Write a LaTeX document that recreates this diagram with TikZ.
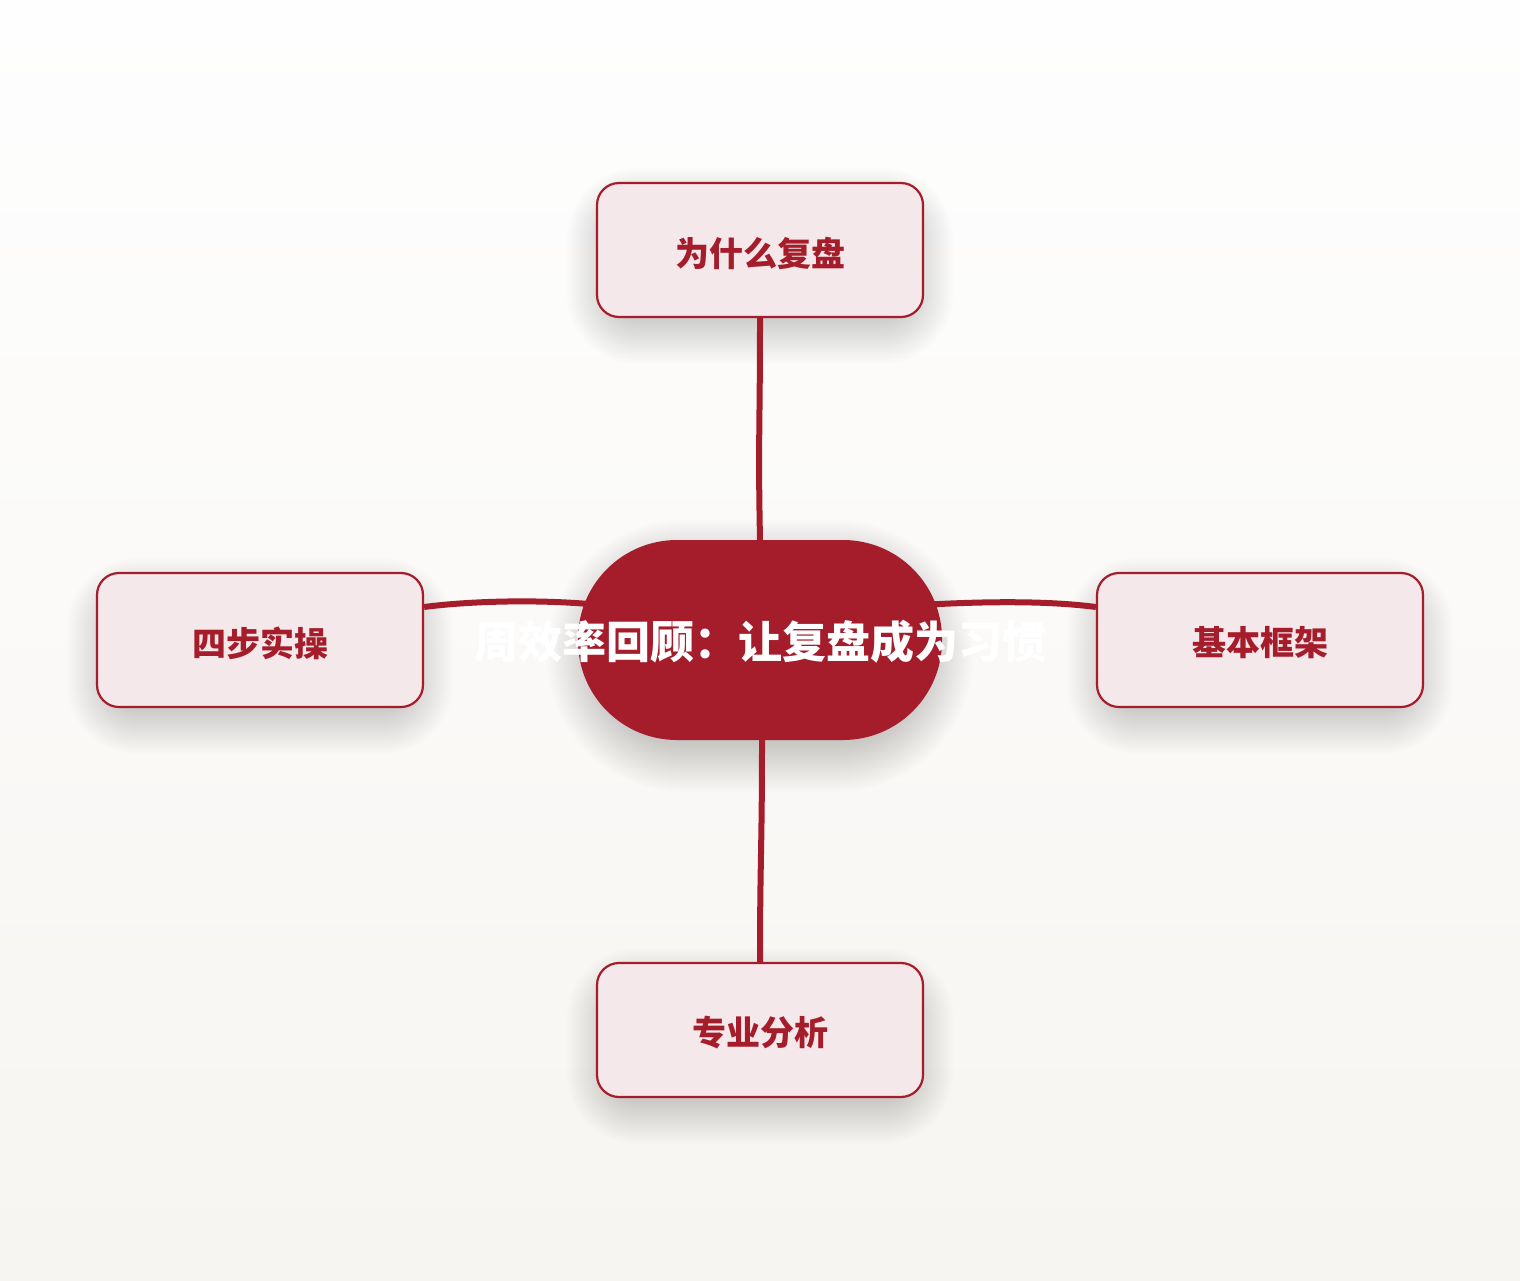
\documentclass[tikz,border=0pt]{standalone}
\usepackage{fontspec}
\newfontfamily\cjk{Noto Sans CJK SC}
\definecolor{mainred}{HTML}{A51C2B}
\definecolor{boxfill}{HTML}{F4E8EA}
\definecolor{bgtop}{HTML}{FEFEFE}
\definecolor{bgbot}{HTML}{F7F5F1}
\pgfdeclarelayer{bglayer}
\pgfdeclarelayer{shadowlayer}
\pgfdeclarelayer{linklayer}
\pgfsetlayers{bglayer,shadowlayer,linklayer,main}
\tikzset{
  topicbox/.style={draw=mainred, line width=2.2pt, fill=boxfill, rounded corners=22pt,
    minimum width=326pt, minimum height=134pt, inner sep=0pt},
  topictext/.style={font=\cjk\bfseries\fontsize{34}{36}\selectfont, text=mainred, inner sep=0pt},
  centerbox/.style={fill=mainred, rounded corners=99pt,
    minimum width=364pt, minimum height=200pt, inner sep=0pt},
  centertext/.style={font=\cjk\bfseries\fontsize{44}{50}\selectfont, text=white, inner sep=0pt},
  connector/.style={draw=mainred, line width=6pt},
  shadowlayerstyle/.style={fill=black, opacity=0.0085}
}
% soft shadow: center x, center y, half width, half height, radius
\newcommand{\softshadow}[5]{%
  \foreach \k in {0,...,24}{%
    \pgfmathsetmacro{\ex}{\k*2.0}%
    \pgfmathsetmacro{\rr}{#5+\ex}%
    \fill[shadowlayerstyle, rounded corners=\rr pt]
      (#1-#3-\ex, #2-#4-\ex+16) rectangle (#1+#3+\ex, #2+#4+\ex+16);
  }%
}
\begin{document}
\begin{tikzpicture}[x=1pt,y=-1pt]
\useasboundingbox (0,0) rectangle (1520,1280);
\begin{pgfonlayer}{bglayer}
\shade[top color=bgtop, bottom color=bgbot] (0,0) rectangle (1520,1280);
\end{pgfonlayer}
\begin{pgfonlayer}{shadowlayer}
\softshadow{760}{250}{145}{50}{22}
\softshadow{260}{640}{145}{50}{22}
\softshadow{1260}{640}{145}{50}{22}
\softshadow{760}{1030}{145}{50}{22}
\softshadow{760}{640}{165}{88}{88}
\end{pgfonlayer}
\node[topicbox] (why) at (760,250) {};
\node[topicbox] (steps) at (260,640) {};
\node[topicbox] (frame) at (1260,640) {};
\node[topicbox] (pro) at (760,1030) {};
\node[topictext] (whyT) at (760,253) {为什么复盘};
\node[topictext] (stepsT) at (260,643) {四步实操};
\node[topictext] (frameT) at (1260,643) {基本框架};
\node[topictext] (proT) at (760,1033) {专业分析};
\node[centerbox] (c) at (760,640) {};
\node[centertext] (ct) at (760,642) {周效率回顾：让复盘成为习惯};
\begin{pgfonlayer}{linklayer}
\draw[connector] (why.south) .. controls (760,430) and (758,440) .. (c.north);
\draw[connector] ([xshift=2pt]c.south) .. controls (762,850) and (760,860) .. (pro.north);
\draw[connector] ([yshift=33pt]steps.east) .. controls (470,601) and (540,599) .. ([xshift=22pt,yshift=35pt]c.west);
\draw[connector] ([xshift=-22pt,yshift=35pt]c.east) .. controls (990,601) and (1050,601) .. ([yshift=33pt]frame.west);
\end{pgfonlayer}
\end{tikzpicture}
\end{document}
